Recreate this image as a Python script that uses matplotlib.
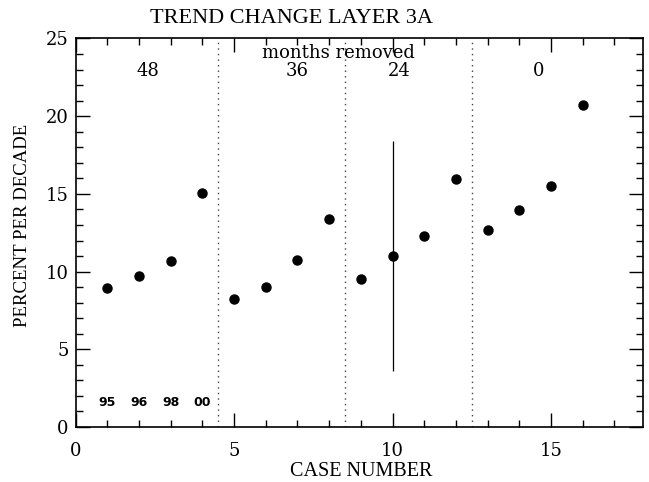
import matplotlib
matplotlib.use("Agg")
import matplotlib.pyplot as plt
from matplotlib.ticker import MultipleLocator

cases = [1, 2, 3, 4, 5, 6, 7, 8, 9, 10, 11, 12, 13, 14, 15, 16]
trend = [8.96, 9.72, 10.69, 15.03, 8.25, 9.04, 10.77, 13.36,
         9.51, 11.0, 12.31, 15.96, 12.69, 13.97, 15.49, 20.73]
err_case = [10]
err_value = [11.0]
err_size = [7.38]
dividers = [4.5, 8.5, 12.5]
group_labels = ["48", "36", "24", "0"]
group_x = [2.3, 7.0, 10.2, 14.6]
year_labels = ["95", "96", "98", "00"]
year_x = [1, 2, 3, 4]

plt.rcParams['font.family'] = ['DejaVu Serif']

fig = plt.figure(figsize=(6.49, 4.82), dpi=100)
ax = fig.add_axes([75.5 / 649, 1 - 427 / 482, 567.5 / 649, 388.5 / 482])

ax.plot(cases, trend, 'o', color='black', markersize=6.5)
ax.errorbar(err_case, err_value, yerr=err_size, fmt='none', ecolor='black',
            elinewidth=0.9, capsize=0)
for d in dividers:
    ax.axvline(d, color='#444444', linestyle=(0, (1, 3)), linewidth=1.0)

for lab, x in zip(group_labels, group_x):
    ax.text(x, 22.88, lab, ha='center', va='center', fontsize=13)
ax.text(8.29, 24.07, "months removed", ha='center', va='center', fontsize=13)
for lab, x in zip(year_labels, year_x):
    ax.text(x, 1.55, lab, ha='center', va='center', fontsize=9,
            fontweight='bold', family=['DejaVu Sans'])

ax.set_xlim(0, 17.9)
ax.set_ylim(0, 25)
ax.xaxis.set_major_locator(MultipleLocator(5))
ax.xaxis.set_minor_locator(MultipleLocator(1))
ax.yaxis.set_major_locator(MultipleLocator(5))
ax.yaxis.set_minor_locator(MultipleLocator(1))
ax.tick_params(which='both', direction='in', top=True, right=True,
               labelsize=13, width=1.0)
ax.tick_params(axis='x', which='major', pad=11)
ax.tick_params(axis='y', which='major', pad=5)
ax.tick_params(which='major', length=10)
ax.tick_params(which='minor', length=5)
for s in ax.spines.values():
    s.set_linewidth(1.2)

fig.text(291 / 649, 1 - 18.5 / 482, "TREND CHANGE LAYER 3A", ha='center',
         va='center', fontsize=16, family=['Liberation Serif'])
fig.text(361 / 649, 1 - 472 / 482, "CASE NUMBER", ha='center', va='center',
         fontsize=14.5, family=['Liberation Serif'])
fig.text(23 / 649, 1 - 225 / 482, "PERCENT PER DECADE", ha='center',
         va='center', rotation=90, fontsize=13.5, family=['Liberation Serif'])

fig.savefig("out.png", dpi=100)
